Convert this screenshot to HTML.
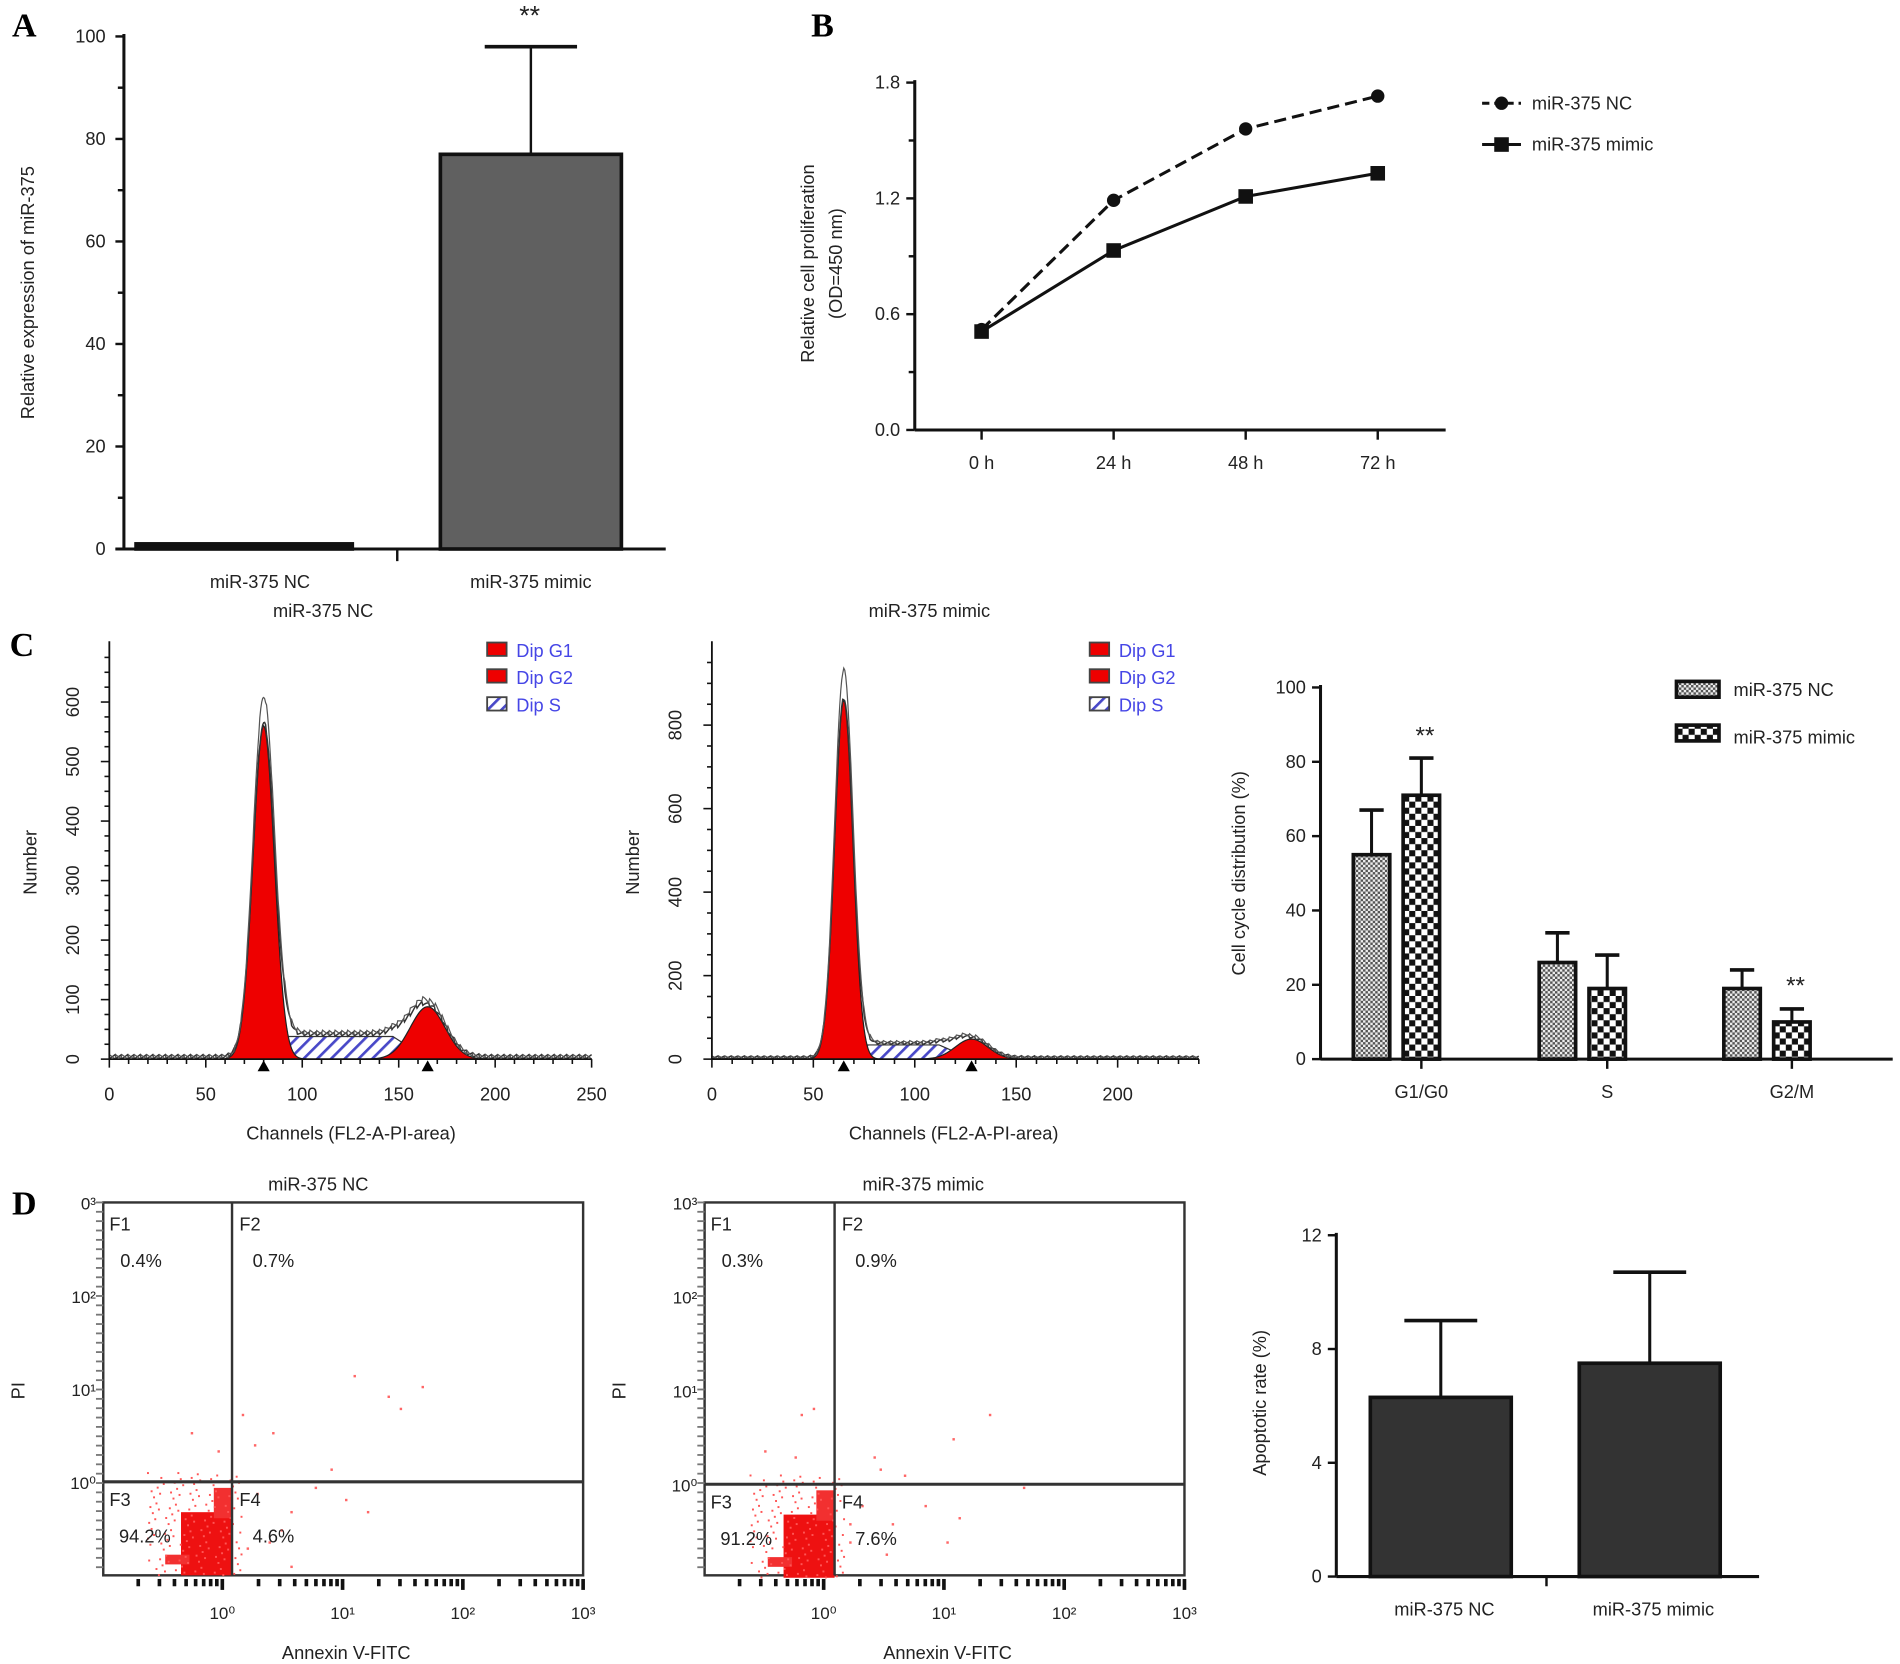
<!DOCTYPE html>
<html><head><meta charset="utf-8"><style>
html,body{margin:0;padding:0;background:#fff;}
svg{display:block;font-family:"Liberation Sans",Arial,sans-serif;}
</style></head><body>
<svg id="fig" width="1900" height="1664" viewBox="0 0 1564 1370" preserveAspectRatio="none" xmlns="http://www.w3.org/2000/svg">
<defs>
<pattern id="pNC" width="4" height="4" patternUnits="userSpaceOnUse"><rect width="4" height="4" fill="#eee"/><rect width="2" height="2" fill="#555"/><rect x="2" y="2" width="2" height="2" fill="#555"/></pattern>
<pattern id="pMim" width="10" height="10" patternUnits="userSpaceOnUse"><rect width="10" height="10" fill="#fff"/><rect width="5" height="5" fill="#111"/><rect x="5" y="5" width="5" height="5" fill="#111"/></pattern>
<pattern id="pS" width="8" height="8" patternUnits="userSpaceOnUse" patternTransform="rotate(45)"><rect width="8" height="8" fill="#fff"/><rect width="2.2" height="8" fill="#4848c8"/></pattern>
</defs>
<g id="root"></g>
</svg>
<script>
// ---------- DATA ----------
// Panel A
const aCats = ["miR-375 NC", "miR-375 mimic"];
const aVals = [1, 77];
const aErr = [1.2, 98];
const aTicks = [0, 20, 40, 60, 80, 100];
// Panel B
const bCats = ["0 h", "24 h", "48 h", "72 h"];
const bNC = [0.52, 1.19, 1.56, 1.73];
const bMimic = [0.51, 0.93, 1.21, 1.33];
const bTicks = [0.0, 0.6, 1.2, 1.8];
// Panel C histograms: [G1 pos, G1 height, G1 width, G2 pos, G2 height, G2 width, S level]
const cHistNC = [80, 560, 5.5, 165, 88, 9, 38];
const cHistMimic = [65, 860, 4.5, 128, 48, 8, 34];
const cTicksNC = [0, 50, 100, 150, 200, 250];
const cYTicksNC = [0, 100, 200, 300, 400, 500, 600];
const cTicksMimic = [0, 50, 100, 150, 200];
const cYTicksMimic = [0, 200, 400, 600, 800];
// Panel C bars
const ccCats = ["G1/G0", "S", "G2/M"];
const ccNC = [55, 26, 19];
const ccNCErr = [67, 34, 24];
const ccMimic = [71, 19, 10];
const ccMimicErr = [81, 28, 13.5];
const ccTicks = [0, 20, 40, 60, 80, 100];
// Panel D
const dQuadNC = ["0.4%", "0.7%", "94.2%", "4.6%"];
const dQuadMimic = ["0.3%", "0.9%", "91.2%", "7.6%"];
const dCats = ["miR-375 NC", "miR-375 mimic"];
const dVals = [6.3, 7.5];
const dErr = [9.0, 10.7];
const dTicks = [0, 4, 8, 12];

// ---------- HELPERS ----------
const NS = "http://www.w3.org/2000/svg";
const root = document.getElementById('root');
function mk(tag, attrs, parent, txt) {
  const e = document.createElementNS(NS, tag);
  for (const k in attrs) e.setAttribute(k, attrs[k]);
  if (txt !== undefined) e.textContent = txt;
  (parent || root).appendChild(e);
  return e;
}
function line(x1,y1,x2,y2,w,p,c){return mk('line',{x1,y1,x2,y2,stroke:c||'#111','stroke-width':w||2},p);}
function text(x,y,s,sz,p,anchor,extra){const a=Object.assign({x,y,'font-size':sz||15,'text-anchor':anchor||'middle',fill:'#222'},extra||{});return mk('text',a,p,s);}

// ---------- Letters ----------
[["A",20,30],["B",677,30],["C",18,540],["D",20,1000]].forEach(([l,x,y])=>{
  const t=text(x,y,l,28,root,'middle',{'font-family':'Liberation Serif, serif','font-weight':'bold',fill:'#000'});
  
  
});

// ---------- Panel A ----------
(function(){
  const g=mk('g',{});
  
  
  const x0=102,y0=452,y1=30, ymax=100;
  const Y=v=>y0-(v/ymax)*(y0-y1);
  const cx=[201,437], bw=[178,149];
  aVals.forEach((v,i)=>{
    if(aErr[i]>v+0.5){line(cx[i],Y(v),cx[i],Y(aErr[i]),2,g);line(cx[i]-38,Y(aErr[i]),cx[i]+38,Y(aErr[i]),3,g);}
    const r=mk('rect',{x:cx[i]-bw[i]/2,y:Y(v),width:bw[i],height:Math.max(y0-Y(v),3),fill:i?'#606060':'#111',stroke:'#111','stroke-width':3},g);
    
    
  });
  line(x0,y1-2,x0,y0,2.5,g); line(95,y0,548,y0,2.5,g); line(327,y0,327,462,2,g);
  for(let v=0;v<=100;v+=10){line(x0-(v%20?5:7),Y(v),x0,Y(v),2,g);}
  aTicks.forEach(v=>text(x0-15,Y(v)+5,v,15,g,'end'));
  text(214,484,aCats[0],15,g); text(437,484,aCats[1],15,g);
  text(436,20,"**",22,g);
  const t=text(0,0,"Relative expression of miR-375",15,g,'middle',{transform:'translate(28,241) rotate(-90)'});
  
  
})();

// ---------- Panel B ----------
(function(){
  const g=mk('g',{});
  
  
  const x0=753,y0=354,y1=68;
  const Y=v=>y0-(v/1.8)*(y0-y1);
  const X=i=>808+i*108.7;
  line(x0,y1-2,x0,y0,2.5,g); line(x0,y0,1190,y0,2.5,g);
  for(let k=0;k<=6;k++){const v=k*0.3;line(x0-(k%2?5:7),Y(v),x0,Y(v),2,g);}
  bTicks.forEach(v=>text(x0-12,Y(v)+5,v.toFixed(1),15,g,'end'));
  bCats.forEach((c,i)=>{line(X(i),y0,X(i),y0+8,2,g);text(X(i),y0+32,c,15,g);});
  const pNC=bNC.map((v,i)=>X(i)+','+Y(v)).join(' ');
  const pM=bMimic.map((v,i)=>X(i)+','+Y(v)).join(' ');
  const l1=mk('polyline',{points:pNC,fill:'none',stroke:'#111','stroke-width':2.5,'stroke-dasharray':'10,5'},g);
  
  
  const l2=mk('polyline',{points:pM,fill:'none',stroke:'#111','stroke-width':2.5},g);
  
  
  bNC.forEach((v,i)=>mk('circle',{cx:X(i),cy:Y(v),r:5.5,fill:'#111'},g));
  bMimic.forEach((v,i)=>mk('rect',{x:X(i)-6,y:Y(v)-6,width:12,height:12,fill:'#111'},g));
  line(1220,85,1252,85,2.5,g,'#111').setAttribute('stroke-dasharray','6,4');
  mk('circle',{cx:1236,cy:85,r:5.5,fill:'#111'},g);
  text(1261,90,"miR-375 NC",15,g,'start');
  line(1220,119,1252,119,2.5,g);
  mk('rect',{x:1230,y:113,width:12,height:12,fill:'#111'},g);
  text(1261,124,"miR-375 mimic",15,g,'start');
  text(0,0,"Relative cell proliferation",15,g,'middle',{transform:'translate(670,217) rotate(-90)'});
  text(0,0,"(OD=450 nm)",15,g,'middle',{transform:'translate(693,217) rotate(-90)'});
})();

// ---------- Panel C histograms ----------
function hist(prm, ox, xs, ymaxPx, ys, xTicks, yTicks, title, titleX, name){
  const g=mk('g',{});
  
  
  const y0=872;
  const X=v=>ox+v*xs, Y=v=>y0-v*ys;
  const [g1p,g1h,g1w,g2p,g2h,g2w,sL]=prm;
  const gauss=(c,h,w,x)=>h*Math.exp(-0.5*((x-c)/w)**2);
  const sF=x=> (x>g1p && x<g2p) ? sL*Math.min(1,(x-g1p)/(2*g1w))*Math.min(1,(g2p-x)/(2*g2w)) : 0;
  const xmax=xTicks[xTicks.length-1]+ (xTicks.length===5?40:0);
  let g1='',g2='',sP='',tot='',tot2='';
  const step=0.5;
  for(let x=0;x<=xmax;x+=step){
    const a=gauss(g1p,g1h,g1w,x), b=gauss(g2p,g2h,g2w,x), s=sF(x);
    const j=((Math.floor(x*2)*7919)%13-6)*0.6;
    g1+=` L${X(x)},${Y(a)}`; g2+=` L${X(x)},${Y(b)}`; sP+=` L${X(x)},${Y(s)}`;
    tot+=` L${X(x)},${Y(a+b+s+4+j)}`; tot2+=` L${X(x)},${Y((a+b+s)*1.08+4-j)}`;
  }
  mk('path',{d:`M${X(0)},${y0}${sP} L${X(xmax)},${y0}Z`,fill:'url(#pS)',stroke:'#333','stroke-width':1},g);
  const r1=mk('path',{d:`M${X(0)},${y0}${g1} L${X(xmax)},${y0}Z`,fill:'#ee0000',stroke:'#222','stroke-width':1},g);
  
  
  const r2=mk('path',{d:`M${X(0)},${y0}${g2} L${X(xmax)},${y0}Z`,fill:'#ee0000',stroke:'#222','stroke-width':1},g);
  
  
  mk('path',{d:'M'+tot.slice(2),fill:'none',stroke:'#333','stroke-width':1.2},g);
  mk('path',{d:'M'+tot2.slice(2),fill:'none',stroke:'#555','stroke-width':1},g);
  line(ox,528,ox,y0,1.5,g); line(ox,y0,X(xmax),y0,1.5,g);
  for(let v=0;v<=xmax;v+=10) line(X(v),y0,X(v),y0+(v%50?4:7),1.3,g);
  xTicks.forEach(v=>text(X(v),y0+34,v,15,g));
  for(let v=0;Y(v)>530;v+=yTicks[1]/4) line(ox-(Math.abs(v%yTicks[1])<0.01?7:4),Y(v),ox,Y(v),1.3,g);
  yTicks.forEach(v=>text(0,0,v,15,g,'middle',{transform:`translate(${ox-25},${Y(v)}) rotate(-90)`}));
  mk('polygon',{points:`${X(g1p)-5},${y0+10} ${X(g1p)+5},${y0+10} ${X(g1p)},${y0+1}`,fill:'#000'},g);
  mk('polygon',{points:`${X(g2p)-5},${y0+10} ${X(g2p)+5},${y0+10} ${X(g2p)},${y0+1}`,fill:'#000'},g);
  text(titleX,508,title,15,g);
  text(ox+199,938,"Channels (FL2-A-PI-area)",15,g);
  text(0,0,"Number",15,g,'middle',{transform:`translate(${ox-60},710) rotate(-90)`});
  const lx=ox+311;
  [["Dip G1",536],["Dip G2",558],["Dip S",581]].forEach(([s,y],i)=>{
    mk('rect',{x:lx,y:y-7,width:16,height:11,fill:i<2?'#ee0000':'url(#pS)',stroke:'#444','stroke-width':1.5},g);
    text(lx+24,y+5,s,15,g,'start',{fill:'#4646e6'});
  });
}
hist(cHistNC, 90, 397/250, 0, 294/600, cTicksNC, cYTicksNC, "miR-375 NC", 266, 'panel-c-histogram-nc');
hist(cHistMimic, 586, 334/200, 0, 275/800, cTicksMimic, cYTicksMimic, "miR-375 mimic", 765, 'panel-c-histogram-mimic');

// ---------- Panel C bars ----------
(function(){
  const g=mk('g',{});
  
  
  const x0=1087,y0=872,y1=566;
  const Y=v=>y0-(v/100)*(y0-y1);
  const gx=[1170,1323,1475], bw=30;
  ccCats.forEach((c,i)=>{
    [[ccNC[i],ccNCErr[i],gx[i]-41,'url(#pNC)','nc'],[ccMimic[i],ccMimicErr[i],gx[i],'url(#pMim)','mimic']].forEach(([v,e,cx,f,n])=>{
      line(cx,Y(v),cx,Y(e),2.5,g); line(cx-10,Y(e),cx+10,Y(e),3,g);
      const r=mk('rect',{x:cx-bw/2,y:Y(v),width:bw,height:y0-Y(v),fill:f,stroke:'#111','stroke-width':3},g);
      
      
    });
    line(gx[i],y0,gx[i],y0+8,2,g);
    text(gx[i],y0+32,c,15,g);
  });
  line(x0,y1-2,x0,y0,2.5,g); line(x0,y0,1558,y0,2.5,g);
  ccTicks.forEach(v=>{line(x0-7,Y(v),x0,Y(v),2,g);text(x0-12,Y(v)+5,v,15,g,'end');});
  text(1173,612,"**",20,g); text(1478,818,"**",20,g);
  text(0,0,"Cell cycle distribution (%)",15,g,'middle',{transform:'translate(1025,719) rotate(-90)'});
  mk('rect',{x:1380,y:561,width:35,height:13,fill:'url(#pNC)',stroke:'#111','stroke-width':3},g);
  text(1427,573,"miR-375 NC",15,g,'start');
  mk('rect',{x:1380,y:597,width:35,height:13,fill:'url(#pMim)',stroke:'#111','stroke-width':3},g);
  text(1427,612,"miR-375 mimic",15,g,'start');
})();

// ---------- Panel D scatter ----------
const dotsNC=[[200,1165],[210,1190],[225,1180],[240,1245],[260,1225],[292,1133],[320,1150],[348,1142],[330,1160],[273,1210],[303,1245],[222,1270],[240,1290],[180,1195],[285,1235],[158,1180],[212,1230],[232,1260],[204,1275]];
const dotsMimic=[[660,1165],[670,1160],[630,1195],[720,1200],[745,1215],[785,1185],[815,1165],[790,1250],[762,1240],[735,1255],[700,1270],[843,1225],[780,1270],[725,1210],[655,1200],[710,1240],[730,1280],[700,1255]];
function scatter(ox,qx,qy,quad,dots,title,titleX,name,xt0){
  const g=mk('g',{});
  
  
  const top=990,bot=1297,right=ox+395;
  mk('rect',{x:ox,y:top,width:395,height:bot-top,fill:'none',stroke:'#333','stroke-width':2},g);
  // dense cluster
  mk('rect',{x:qx-42,y:qy+25,width:42,height:52,fill:'#ee1111'},g);
  mk('rect',{x:qx-15,y:qy+5,width:15,height:25,fill:'#f23030'},g);
  mk('rect',{x:qx-55,y:qy+60,width:20,height:8,fill:'#f23030'},g);
  for(let i=0;i<140;i++){const px=qx-70+((i*37)%78),py=qy-8+((i*53)%85);mk('rect',{x:px,y:py,width:1.6,height:1.6,fill:'#f55'},g);}
  dots.forEach(([x,y])=>mk('rect',{x:x-1,y:y-1,width:2,height:2,fill:'#f66'},g));
  line(qx,top,qx,bot,2,g,'#333'); line(ox,qy,right,qy,2.5,g,'#333');
  for(let k=0;k<40;k++){const y=top+k*7.7;line(ox-6,y,ox,y,1.5,g,'#777');}
  ["10³","10²","10¹","10⁰"].forEach((s,i)=>text(ox-6,top+i*(qy-top)/3+6,i===0&&ox<100?"0³":s,14,g,'end'));
  const dec=[xt0,xt0+99,xt0+198,xt0+297];
  for(let d=0;d<4;d++){for(let m=1;m<=9;m++){const x=dec[d]-99+99*Math.log10(m+1);if(x>ox+10)line(x,bot+3,x,bot+(m===9?12:9),3,g);}}
  ["10⁰","10¹","10²","10³"].forEach((s,i)=>text(dec[i],bot+36,s,14,g));
  text(ox+5,1013,"F1",15,g,'start'); text(qx+6,1013,"F2",15,g,'start');
  text(ox+5,qy+20,"F3",15,g,'start'); text(qx+6,qy+20,"F4",15,g,'start');
  text(ox+14,1043,quad[0],15,g,'start'); text(qx+17,1043,quad[1],15,g,'start');
  text(ox+13,qy+50,quad[2],15,g,'start'); text(qx+17,qy+50,quad[3],15,g,'start');
  text(titleX,980,title,15,g);
  text(ox+200,1366,"Annexin V-FITC",15,g);
  text(0,0,"PI",15,g,'middle',{transform:`translate(${ox-65},1145) rotate(-90)`});
}
scatter(85,191,1220,dQuadNC,dotsNC,"miR-375 NC",262,'panel-d-scatter-nc',183);
scatter(580,687,1222,dQuadMimic,dotsMimic,"miR-375 mimic",760,'panel-d-scatter-mimic',678);

// ---------- Panel D bars ----------
(function(){
  const g=mk('g',{});
  
  
  const x0=1100,y0=1298,y1=1017;
  const Y=v=>y0-(v/12)*(y0-y1);
  const cx=[1186,1358], bw=116;
  dVals.forEach((v,i)=>{
    line(cx[i],Y(v),cx[i],Y(dErr[i]),2.5,g); line(cx[i]-30,Y(dErr[i]),cx[i]+30,Y(dErr[i]),3,g);
    const r=mk('rect',{x:cx[i]-bw/2,y:Y(v),width:bw,height:y0-Y(v),fill:'#333',stroke:'#111','stroke-width':3},g);
    
    
    text(cx[i]+3,y0+32,dCats[i],15,g);
  });
  line(x0,y1-2,x0,y0,2.5,g); line(x0,y0,1448,y0,2.5,g); line(1273,y0,1273,y0+8,2,g);
  dTicks.forEach(v=>{line(x0-7,Y(v),x0,Y(v),2,g);text(x0-12,Y(v)+5,v,15,g,'end');});
  text(0,0,"Apoptotic rate (%)",15,g,'middle',{transform:'translate(1042,1155) rotate(-90)'});
})();
</script>
</body></html>
